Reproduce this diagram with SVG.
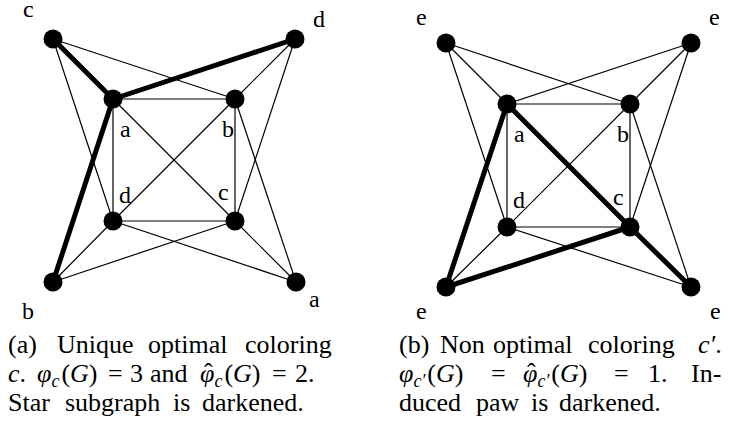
<svg xmlns="http://www.w3.org/2000/svg" width="733" height="430" viewBox="0 0 733 430">
<style>
.thin{stroke:#000;stroke-width:1.2;fill:none;stroke-linecap:round}
.thick{stroke:#000;stroke-width:5;fill:none;stroke-linecap:round}
.n{fill:#000}
text{font-family:"Liberation Serif","DejaVu Serif",serif;fill:#000}
.lbl{font-size:24px}
.cap{font-size:26px}
.it{font-style:italic}
.sub{font-size:18px;font-style:italic}
</style>
<rect width="733" height="430" fill="#fff"/>
<g id="connectors-a">
<line class="thin" x1="53" y1="39" x2="235" y2="99"/>
<line class="thin" x1="53" y1="39" x2="113" y2="221"/>
<line class="thin" x1="295" y1="39" x2="235" y2="99"/>
<line class="thin" x1="295" y1="39" x2="235" y2="221"/>
<line class="thin" x1="53" y1="282" x2="113" y2="221"/>
<line class="thin" x1="53" y1="282" x2="235" y2="221"/>
<line class="thin" x1="296" y1="282" x2="235" y2="99"/>
<line class="thin" x1="296" y1="282" x2="235" y2="221"/>
<line class="thin" x1="296" y1="282" x2="113" y2="221"/>
<line class="thin" x1="113" y1="99" x2="235" y2="99"/>
<line class="thin" x1="235" y1="99" x2="235" y2="221"/>
<line class="thin" x1="235" y1="221" x2="113" y2="221"/>
<line class="thin" x1="113" y1="221" x2="113" y2="99"/>
<line class="thin" x1="113" y1="99" x2="235" y2="221"/>
<line class="thin" x1="235" y1="99" x2="113" y2="221"/>
<line class="thick" x1="53" y1="39" x2="113" y2="99"/>
<line class="thick" x1="295" y1="39" x2="113" y2="99"/>
<line class="thick" x1="53" y1="282" x2="113" y2="99"/>
</g>
<g id="connectors-b">
<line class="thin" x1="446" y1="43" x2="507" y2="104"/>
<line class="thin" x1="446" y1="43" x2="630" y2="104"/>
<line class="thin" x1="446" y1="43" x2="507" y2="227"/>
<line class="thin" x1="691" y1="43" x2="507" y2="104"/>
<line class="thin" x1="691" y1="43" x2="630" y2="104"/>
<line class="thin" x1="691" y1="43" x2="630" y2="227"/>
<line class="thin" x1="446" y1="287" x2="507" y2="227"/>
<line class="thin" x1="691" y1="287" x2="630" y2="104"/>
<line class="thin" x1="691" y1="287" x2="507" y2="227"/>
<line class="thin" x1="507" y1="104" x2="630" y2="104"/>
<line class="thin" x1="630" y1="104" x2="630" y2="227"/>
<line class="thin" x1="630" y1="227" x2="507" y2="227"/>
<line class="thin" x1="507" y1="227" x2="507" y2="104"/>
<line class="thin" x1="630" y1="104" x2="507" y2="227"/>
<line class="thick" x1="446" y1="287" x2="507" y2="104"/>
<line class="thick" x1="446" y1="287" x2="630" y2="227"/>
<line class="thick" x1="691" y1="287" x2="630" y2="227"/>
<line class="thick" x1="507" y1="104" x2="630" y2="227"/>
</g>
<g id="a-outer-tl"><circle class="n" cx="53" cy="39" r="9.5"/><text class="lbl" x="23" y="17">c</text></g>
<g id="a-outer-tr"><circle class="n" cx="295" cy="39" r="9.5"/><text class="lbl" x="313" y="27">d</text></g>
<g id="a-outer-bl"><circle class="n" cx="53" cy="282" r="9.5"/><text class="lbl" x="22" y="319">b</text></g>
<g id="a-outer-br"><circle class="n" cx="296" cy="282" r="9.5"/><text class="lbl" x="309" y="307">a</text></g>
<g id="a-inner-a"><circle class="n" cx="113" cy="99" r="9.5"/><text class="lbl" x="120" y="137">a</text></g>
<g id="a-inner-b"><circle class="n" cx="235" cy="99" r="9.5"/><text class="lbl" x="222" y="137">b</text></g>
<g id="a-inner-c"><circle class="n" cx="235" cy="221" r="9.5"/><text class="lbl" x="218" y="200">c</text></g>
<g id="a-inner-d"><circle class="n" cx="113" cy="221" r="9.5"/><text class="lbl" x="119" y="203">d</text></g>
<g id="b-outer-tl"><circle class="n" cx="446" cy="43" r="9.5"/><text class="lbl" x="416" y="25">e</text></g>
<g id="b-outer-tr"><circle class="n" cx="691" cy="43" r="9.5"/><text class="lbl" x="709" y="25">e</text></g>
<g id="b-outer-bl"><circle class="n" cx="446" cy="287" r="9.5"/><text class="lbl" x="416" y="319">e</text></g>
<g id="b-outer-br"><circle class="n" cx="691" cy="287" r="9.5"/><text class="lbl" x="710" y="319">e</text></g>
<g id="b-inner-a"><circle class="n" cx="507" cy="104" r="9.5"/><text class="lbl" x="514" y="142">a</text></g>
<g id="b-inner-b"><circle class="n" cx="630" cy="104" r="9.5"/><text class="lbl" x="617" y="142">b</text></g>
<g id="b-inner-c"><circle class="n" cx="630" cy="227" r="9.5"/><text class="lbl" x="613" y="205">c</text></g>
<g id="b-inner-d"><circle class="n" cx="507" cy="227" r="9.5"/><text class="lbl" x="513" y="208">d</text></g>
<g id="caption-a">
<text class="cap" y="353"><tspan x="8">(a)</tspan><tspan x="57">Unique</tspan><tspan x="148">optimal</tspan><tspan x="245">coloring</tspan></text>
<text class="cap" y="382"><tspan x="8" class="it">c</tspan>.<tspan x="37" class="it">φ</tspan><tspan class="sub" baseline-shift="-5">c</tspan><tspan dx="2">(</tspan><tspan class="it">G</tspan>)<tspan x="108">=</tspan><tspan x="130">3</tspan><tspan x="150">and</tspan><tspan x="200" class="it">φ</tspan><tspan class="sub" baseline-shift="-5">c</tspan><tspan dx="2">(</tspan><tspan class="it">G</tspan>)<tspan x="272">=</tspan><tspan x="295">2.</tspan></text>
<text class="cap" x="204" y="381">ˆ</text>
<text class="cap" y="411"><tspan x="8">Star</tspan><tspan x="65">subgraph</tspan><tspan x="173">is</tspan><tspan x="202">darkened.</tspan></text>
</g>
<g id="caption-b">
<text class="cap" y="353"><tspan x="399">(b)</tspan><tspan x="440">Non</tspan><tspan x="493">optimal</tspan><tspan x="588">coloring</tspan><tspan x="698" class="it">c′</tspan>.</text>
<text class="cap" y="382"><tspan x="399" class="it">φ</tspan><tspan class="sub" baseline-shift="-5">c′</tspan><tspan dx="2">(</tspan><tspan class="it">G</tspan>)<tspan x="491">=</tspan><tspan x="523" class="it">φ</tspan><tspan class="sub" baseline-shift="-5">c′</tspan><tspan dx="2">(</tspan><tspan class="it">G</tspan>)<tspan x="614">=</tspan><tspan x="648">1.</tspan><tspan x="691">In-</tspan></text>
<text class="cap" x="527" y="381">ˆ</text>
<text class="cap" y="411"><tspan x="399">duced</tspan><tspan x="476">paw</tspan><tspan x="531">is</tspan><tspan x="559">darkened.</tspan></text>
</g>
</svg>
